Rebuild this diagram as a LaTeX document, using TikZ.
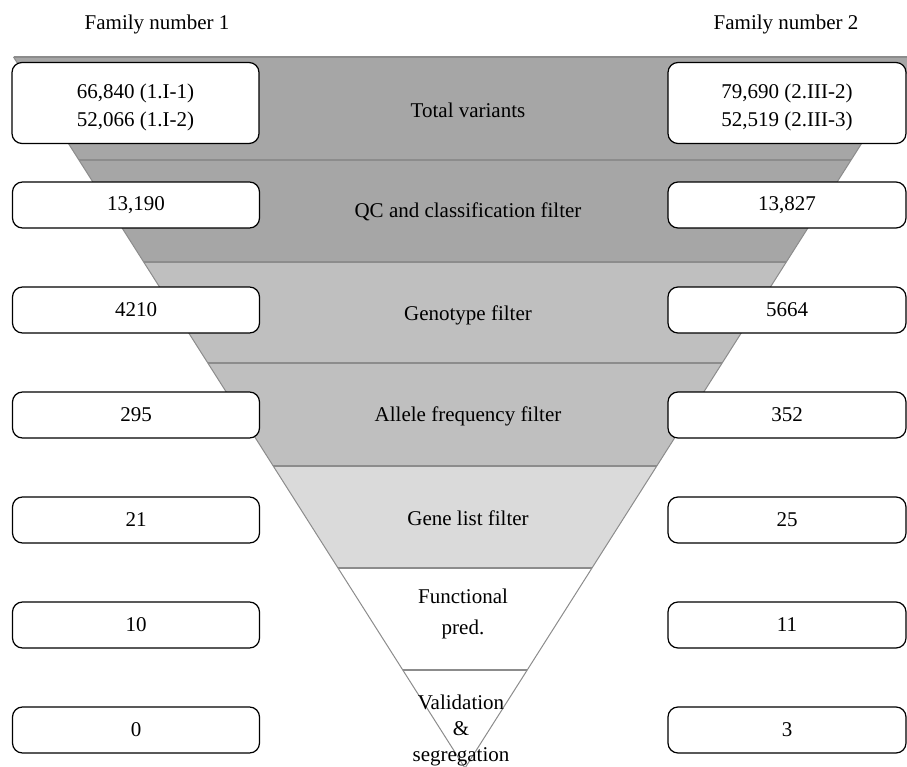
\documentclass[tikz,border=0pt]{standalone}
\usepackage{fontspec}
\setmainfont{Liberation Serif}
\definecolor{banddark}{HTML}{A6A6A6}
\definecolor{bandmid}{HTML}{BFBFBF}
\definecolor{bandlight}{HTML}{DADADA}
\definecolor{edgegray}{HTML}{8C8C8C}
\begin{document}
\begin{tikzpicture}[x=1pt,y=-1pt,
  txt/.style={font=\fontsize{21}{28}\selectfont, text=black, inner sep=0pt, align=center},
  cntbox/.style={draw=black, line width=1.2pt, fill=white, rounded corners=10pt,
    inner sep=0pt, align=center, font=\fontsize{21}{28}\selectfont},
  leftbox/.style={cntbox, minimum width=247pt, minimum height=46pt},
  rightbox/.style={cntbox, minimum width=238pt, minimum height=46pt},
  sepline/.style={draw=edgegray, line width=1.5pt},
  edgeline/.style={draw=edgegray, line width=1pt}]
\useasboundingbox (0,0) rectangle (907,767);
\clip (0,0) rectangle (907,767);
% funnel corner coordinates
\coordinate (L0) at (13.5,57);   \coordinate (R0) at (916.5,57);
\coordinate (L1) at (78.9,160);  \coordinate (R1) at (851.1,160);
\coordinate (L2) at (143.7,262); \coordinate (R2) at (786.3,262);
\coordinate (L3) at (207.8,363); \coordinate (R3) at (722.2,363);
\coordinate (L4) at (273.2,466); \coordinate (R4) at (656.8,466);
\coordinate (L5) at (338,568);   \coordinate (R5) at (592,568);
\coordinate (L6) at (402.8,670); \coordinate (R6) at (527.2,670);
\coordinate (AP) at (465,768);
% bands
\fill[banddark] (L0) -- (R0) -- (R1) -- (L1) -- cycle;
\fill[banddark] (L1) -- (R1) -- (R2) -- (L2) -- cycle;
\fill[bandmid] (L2) -- (R2) -- (R3) -- (L3) -- cycle;
\fill[bandmid] (L3) -- (R3) -- (R4) -- (L4) -- cycle;
\fill[bandlight] (L4) -- (R4) -- (R5) -- (L5) -- cycle;
\fill[white] (L5) -- (R5) -- (R6) -- (L6) -- cycle;
\fill[white] (L6) -- (R6) -- (AP) -- cycle;
% outline and separators
\draw[edgeline] (L0) -- (AP) -- (R0);
\draw[draw=edgegray, line width=2pt] (L0) -- (R0);
\foreach \i in {1,...,6} { \draw[sepline] (L\i) -- (R\i); }
% family headers
\node[txt] (fam1) at (157,24) {Family number 1};
\node[txt] (fam2) at (786,24) {Family number 2};
% stage labels
\node[txt] (s1) at (468,110) {Total variants};
\node[txt] (s2) at (468,212) {QC and classification filter};
\node[txt] (s3) at (468,315) {Genotype filter};
\node[txt] (s4) at (468,416) {Allele frequency filter};
\node[txt] (s5) at (468,518) {Gene list filter};
\node[txt, font=\fontsize{21}{31}\selectfont] (s6) at (463,614) {Functional\\pred.};
\node[txt, font=\fontsize{21}{26}\selectfont] (s7) at (461,730) {Validation\\\&\\segregation};
% left counts
\node[cntbox, minimum width=247pt, minimum height=81pt] (a1) at (135.5,103) {};
\node[txt] (a1t) at (135.5,107) {66,840 (1.I-1)\\52,066 (1.I-2)};
\node[leftbox] (a2) at (136,205) {13,190};
\node[leftbox] (a3) at (136,310) {4210};
\node[leftbox] (a4) at (136,415) {295};
\node[leftbox] (a5) at (136,520) {21};
\node[leftbox] (a6) at (136,625) {10};
\node[leftbox] (a7) at (136,730) {0};
% right counts
\node[cntbox, minimum width=238pt, minimum height=81pt] (b1) at (787,103) {};
\node[txt] (b1t) at (787,107) {79,690 (2.III-2)\\52,519 (2.III-3)};
\node[rightbox] (b2) at (787,205) {13,827};
\node[rightbox] (b3) at (787,310) {5664};
\node[rightbox] (b4) at (787,415) {352};
\node[rightbox] (b5) at (787,520) {25};
\node[rightbox] (b6) at (787,625) {11};
\node[rightbox] (b7) at (787,730) {3};
\end{tikzpicture}
\end{document}
